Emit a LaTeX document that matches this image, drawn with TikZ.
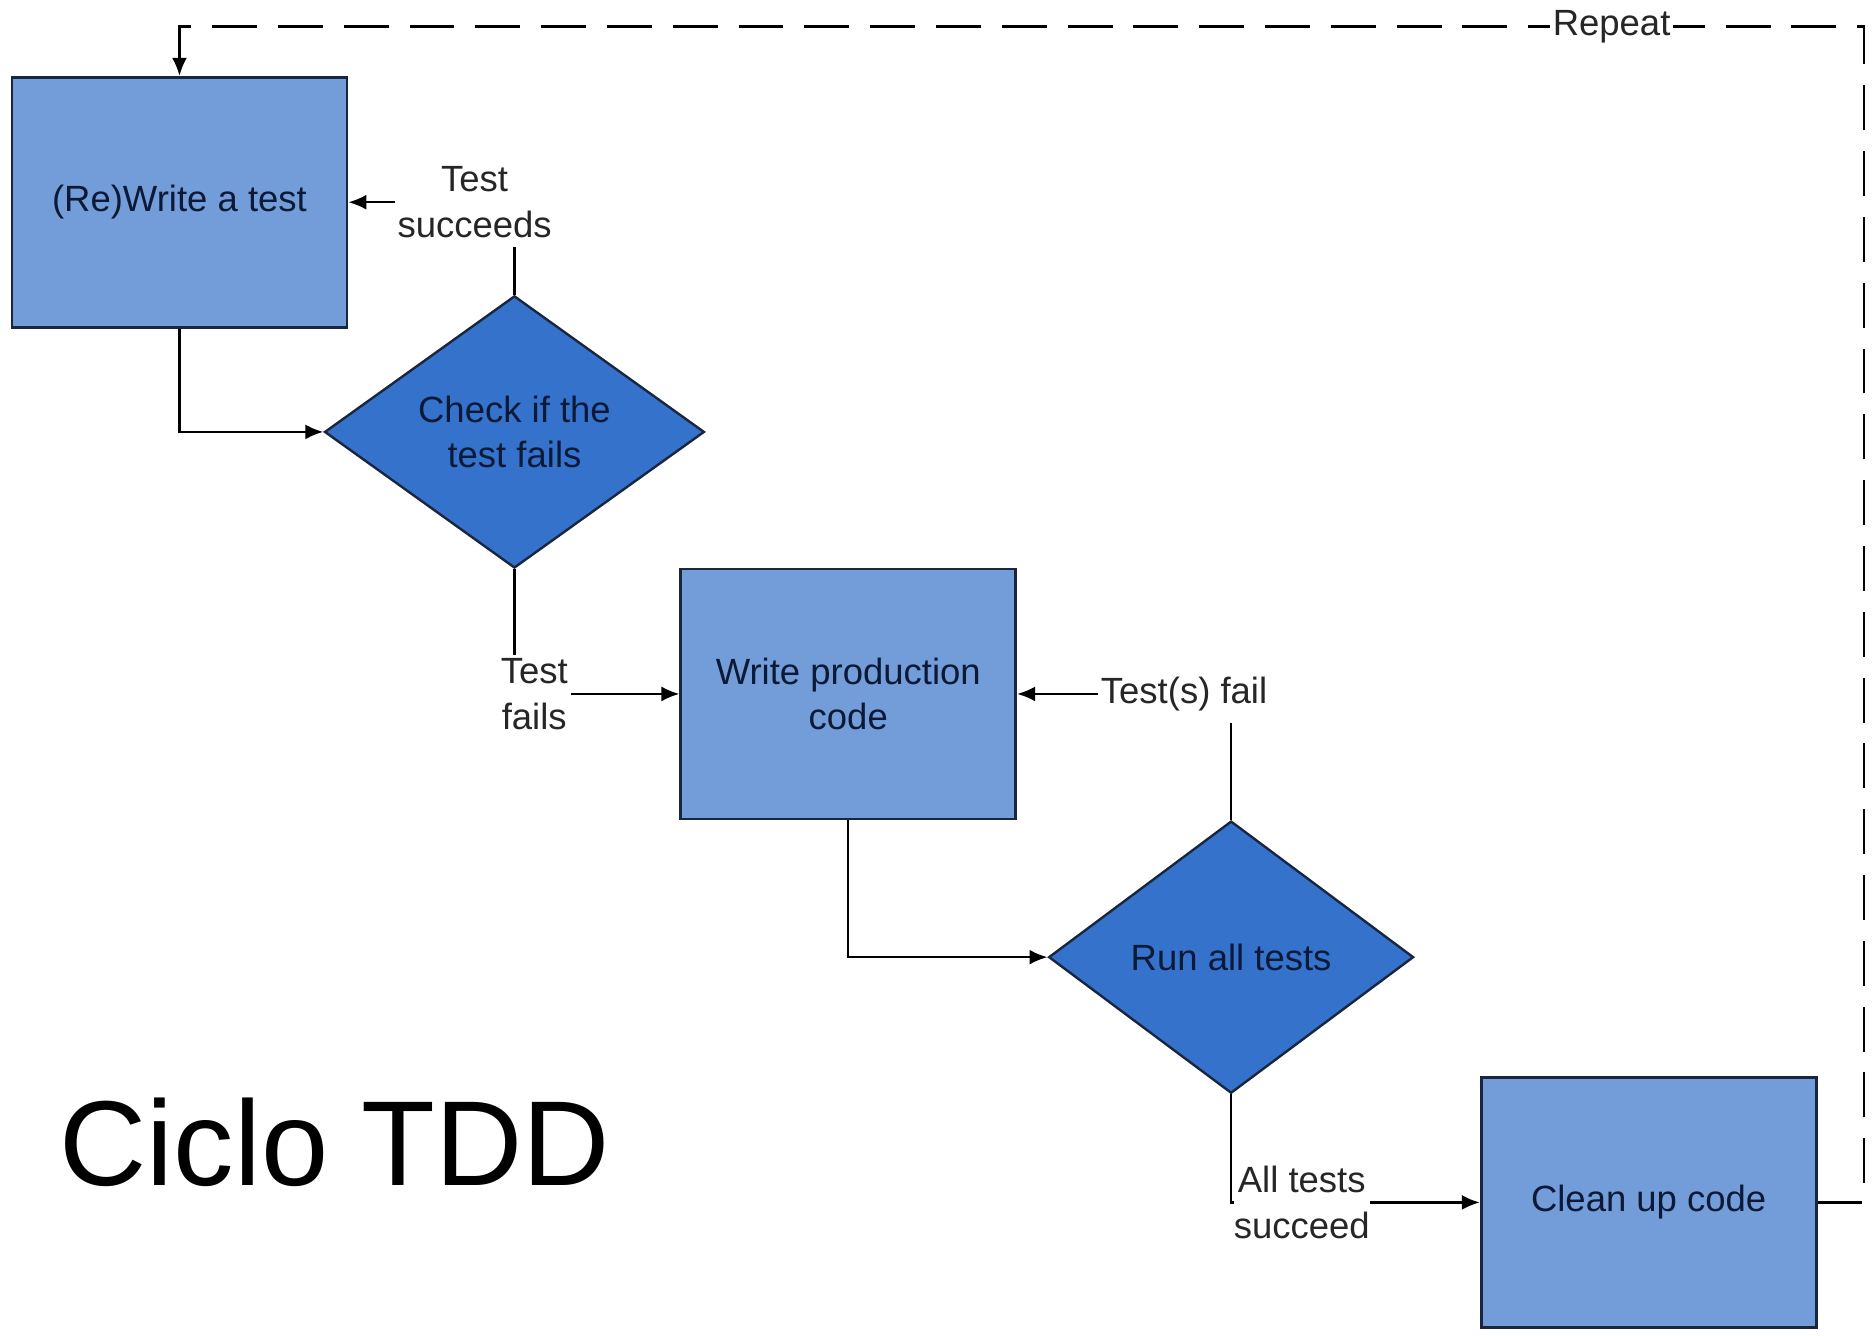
\documentclass[tikz,border=0pt]{standalone}
\usepackage{fontspec}
\setmainfont{Liberation Sans}
\usetikzlibrary{shapes.geometric,arrows.meta}

\definecolor{boxblue}{RGB}{114,157,217}
\definecolor{diablue}{RGB}{52,114,204}
\definecolor{edgeblue}{RGB}{26,38,62}
\definecolor{inktext}{RGB}{12,26,56}

\begin{document}
\begin{tikzpicture}[x=0.4pt,y=0.4pt,yscale=-1,xscale=1,
    every node/.style={font=\fontsize{12.2}{15.2}\selectfont},
    stepbox/.style={draw=edgeblue, line width=0.9pt, fill=boxblue, minimum width=112pt, minimum height=83.6pt, text=inktext, align=center, inner sep=2pt},
    decide/.style={diamond, draw=edgeblue, line width=0.8pt, fill=diablue, shape aspect=1.39, minimum width=127pt, minimum height=91pt, inner sep=0pt, text=inktext, align=center},
    lbl/.style={fill=white, inner sep=1pt, align=center, text=black!85},
    flow/.style={line width=0.8pt, -{Latex[length=6pt,width=5pt]}}]
        \useasboundingbox (0,0) rectangle (1568,1116);

        % Steps of the cycle
        \node[stepbox] (rewrite) at (150,169) {(Re)Write a test};
        \node[decide] (check) at (430,361) {Check if the\\test fails};
        \node[stepbox] (write) at (709,580) {Write production\\code};
        \node[decide, minimum width=122pt] (run) at (1029,800) {Run all tests};
        \node[stepbox] (clean) at (1378,1005) {Clean up code};
        \coordinate (corner) at (1558,22);

        % Connectors
        \draw[flow] (rewrite.south) |- (check.west);
        \draw[flow] (check.north) |- node[lbl, pos=0.62, inner ysep=3pt] (succ) {Test\\succeeds} (rewrite.east);
        \draw[flow] (check.south) |- node[lbl, pos=0.56] (fails) {Test\\fails} (write.west);
        \draw[flow] (write.south) |- (run.west);
        \draw[flow] (run.north) |- node[lbl, pos=0.61, inner ysep=4pt] (tsfail) {Test(s) fail} (write.east);
        \draw[flow] (run.south) |- node[lbl, pos=0.5, anchor=west, xshift=0.5pt, inner xsep=0pt] (allok) {All tests\\succeed} (clean.west);

        % Loop back to the start
        \draw[flow, dash pattern=on 15pt off 7pt] (clean.east) -| (corner) -| (rewrite.north);
        \node[lbl] (rep) at (1347,22) {Repeat};

        % Title
        \node[font=\fontsize{40.4}{48}\selectfont] (title) at (280,955) {Ciclo TDD};

    \end{tikzpicture}
\end{document}
